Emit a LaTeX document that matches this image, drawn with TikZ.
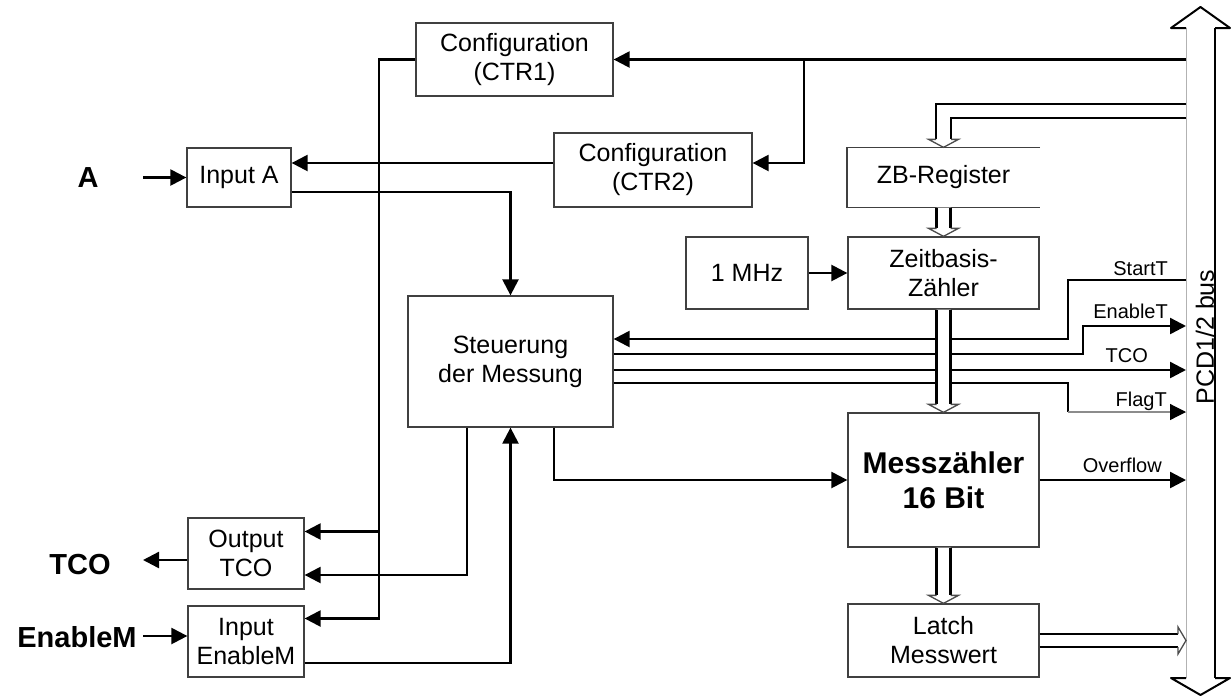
\documentclass[tikz,border=0pt]{standalone}
\usepackage{fontspec}
\setmainfont{Liberation Sans}
\usetikzlibrary{arrows.meta,calc}
\newcommand\hollowv[2]{%
 \fill[white] ([xshift=-7pt]#1) -- ([xshift=-7pt,yshift=8pt]#2) -- ([xshift=-15pt,yshift=8pt]#2) -- (#2) -- ([xshift=15pt,yshift=8pt]#2) -- ([xshift=7pt,yshift=8pt]#2) -- ([xshift=7pt]#1) -- cycle;
 \draw[conn] ([xshift=-7pt]#1) -- ([xshift=-7pt,yshift=8pt]#2);
 \draw[conn] ([xshift=7pt]#1) -- ([xshift=7pt,yshift=8pt]#2);
 \draw[hd] ([xshift=-7pt,yshift=8pt]#2) -- ([xshift=-15pt,yshift=8pt]#2) -- (#2) -- ([xshift=15pt,yshift=8pt]#2) -- ([xshift=7pt,yshift=8pt]#2);}
\begin{document}
\begin{tikzpicture}[x=1pt,y=-1pt,
 box/.style={draw=black!75, line width=1.3pt, fill=white, text=black, align=center, inner sep=0pt, font=\fontsize{25}{29}\selectfont},
 conn/.style={line width=2.4pt, line join=miter},
 arr/.style={-{Triangle[length=16pt,width=16pt,color=black]}},
 lbl/.style={font=\fontsize{20}{24}\selectfont, inner sep=0pt, anchor=base east},
 biglbl/.style={font=\fontsize{29}{33}\selectfont\bfseries, inner sep=0pt},
 hd/.style={draw=black!70, line width=1.3pt, line join=miter},
]
\useasboundingbox (0,0) rectangle (1232,697);

% bus
\coordinate (busL) at (1186,0);
\draw[line width=1pt, black!30] (1186,28) -- (1186,678);
\draw[line width=2.4pt] (1215,28) -- (1215,678);
\draw[line width=2pt, line join=round] (1186,28) -- (1171,28) -- (1200.5,7) -- (1230,28) -- (1215,28);
\draw[line width=2pt, line join=round] (1186,678) -- (1171,678) -- (1200.5,695) -- (1230,678) -- (1215,678);
\node[rotate=90, font=\fontsize{25}{29}\selectfont, inner sep=0pt] (pcd) at (1205,337) {PCD1/2 bus};

% boxes
\node[box, minimum width=197pt, minimum height=73pt] (ctr1) at (514.5,59.5) {Configuration\\(CTR1)};
\node[box, minimum width=198pt, minimum height=74pt] (ctr2) at (653,170) {Configuration\\(CTR2)};
\node[box, minimum width=104pt, minimum height=59pt] (inA) at (239,177.5) {Input A};
\node[box, minimum width=205pt, minimum height=131pt] (st) at (510.5,361.5) {Steuerung\\der Messung};
\node[box, minimum width=116pt, minimum height=71pt] (outT) at (246,553.5) {Output\\TCO};
\node[box, minimum width=116pt, minimum height=71pt] (inE) at (246,641.5) {Input\\EnableM};
\node[box, minimum width=122pt, minimum height=72pt] (mhz) at (747,273) {1 MHz};
\node[box, draw=none, minimum width=192pt, minimum height=59pt] (zb) at (943.5,177.5) {ZB-Register};
\draw[draw=black!75, line width=1.3pt] (zb.north east) -- (zb.north west) -- (zb.south west) -- (zb.south east);
\node[box, minimum width=191pt, minimum height=72pt] (zt) at (943.5,273) {Zeitbasis-\\Zähler};
\node[box, minimum width=191pt, minimum height=134pt, font=\fontsize{30}{35}\selectfont\bfseries] (mz) at (943.5,480) {Messzähler\\16 Bit};
\node[box, minimum width=191pt, minimum height=73pt] (lt) at (943.5,640.5) {Latch\\Messwert};

% outside labels
\node[biglbl] (lA) at (88,178) {A};
\node[biglbl] (lTCO) at (80,565) {TCO};
\node[biglbl] (lEn) at (77,637) {EnableM};

% configuration
\coordinate (br) at (804,0);
\draw[conn,arr] (ctr1.east -| busL) -- (ctr1.east);
\coordinate (c2e) at ([yshift=7pt]ctr2.east);
\draw[conn,arr] (ctr1.east -| br) |- (c2e);
\coordinate (c2w) at ([yshift=7pt]ctr2.west);
\draw[conn,arr] (c2w) -- (c2w -| inA.east);
\coordinate (Ain) at (143,177.5);
\draw[conn,arr] (Ain) -- (inA.west);
\draw[conn,arr] ([yshift=-14.5pt]inA.east) -| (st.north);

\coordinate (vb) at (379,0);
\coordinate (eIn) at ([yshift=23pt]inE.east);
\coordinate (oIn) at ([yshift=22pt]outT.east);
\draw[conn,arr] (ctr1.west) -| (eIn -| vb) -- (eIn);
\draw[conn,arr] (oIn -| vb) -- (oIn);
\coordinate (oIn2) at ([yshift=-21.5pt]outT.east);
\draw[conn,arr] ([xshift=-43.5pt]st.south) |- (oIn2);
\draw[conn,arr] ([yshift=-21.5pt]inE.east) -| (st.south);
\draw[conn,arr] ([xshift=43.5pt]st.south) |- (mz.west);

\coordinate (tcoO) at (143,560);
\draw[conn,arr] (outT.west |- tcoO) -- (tcoO);
\coordinate (enI) at (143,636);
\draw[conn,arr] (enI) -- (inE.west |- enI);

\draw[conn,arr] (mhz.east) -- (zt.west);

% control lines
\coordinate (s1) at (1068,280);
\draw[conn,arr] (s1 -| busL) -- (s1) |- ([yshift=22.5pt]st.east);
\coordinate (e1) at (1083,326);
\draw[conn,arr] ([yshift=7.5pt]st.east) -| (e1) -- (e1 -| busL);
\coordinate (t1) at ([yshift=-8.5pt]st.east);
\draw[conn,arr] (t1) -- (t1 -| busL);
\coordinate (f1) at (1068,412);
\draw[conn] ([yshift=-21.5pt]st.east) -| (f1);
\draw[line width=1.2pt, draw=black!45, arr] (f1) -- (f1 -| busL);
\draw[conn,arr] (mz.east) -- (mz.east -| busL);

\node[lbl] (lS) at (1168,275) {StartT};
\node[lbl] (lE) at (1168,318) {EnableT};
\node[lbl] (lT) at (1148,362) {TCO};
\node[lbl] (lF) at (1167,406) {FlagT};
\node[lbl] (lO) at (1162,472) {Overflow};

% hollow double arrows
\coordinate (bz1) at (1186,104);
\coordinate (bz2) at (1186,118);
\draw[conn] (bz1) -| ([xshift=-7.5pt,yshift=8pt]zb.north);
\draw[conn] (bz2) -| ([xshift=7.5pt,yshift=8pt]zb.north);
\draw[hd] ([xshift=-7.5pt,yshift=8pt]zb.north) -- ([xshift=-15pt,yshift=8pt]zb.north) -- (zb.north) -- ([xshift=15pt,yshift=8pt]zb.north) -- ([xshift=7.5pt,yshift=8pt]zb.north);
\hollowv{zb.south}{zt.north}
\hollowv{zt.south}{mz.north}
\hollowv{mz.south}{lt.north}
\coordinate (ltT) at (lt.east -| busL);
\draw[conn] ([yshift=6.5pt]lt.east) -- ([xshift=-8pt,yshift=6.5pt]ltT);
\draw[conn] ([yshift=-6.5pt]lt.east) -- ([xshift=-8pt,yshift=-6.5pt]ltT);
\draw[hd] ([xshift=-8pt,yshift=6.5pt]ltT) -- ([xshift=-8pt,yshift=13.5pt]ltT) -- (ltT) -- ([xshift=-8pt,yshift=-13.5pt]ltT) -- ([xshift=-8pt,yshift=-6.5pt]ltT);
\end{tikzpicture}
\end{document}
